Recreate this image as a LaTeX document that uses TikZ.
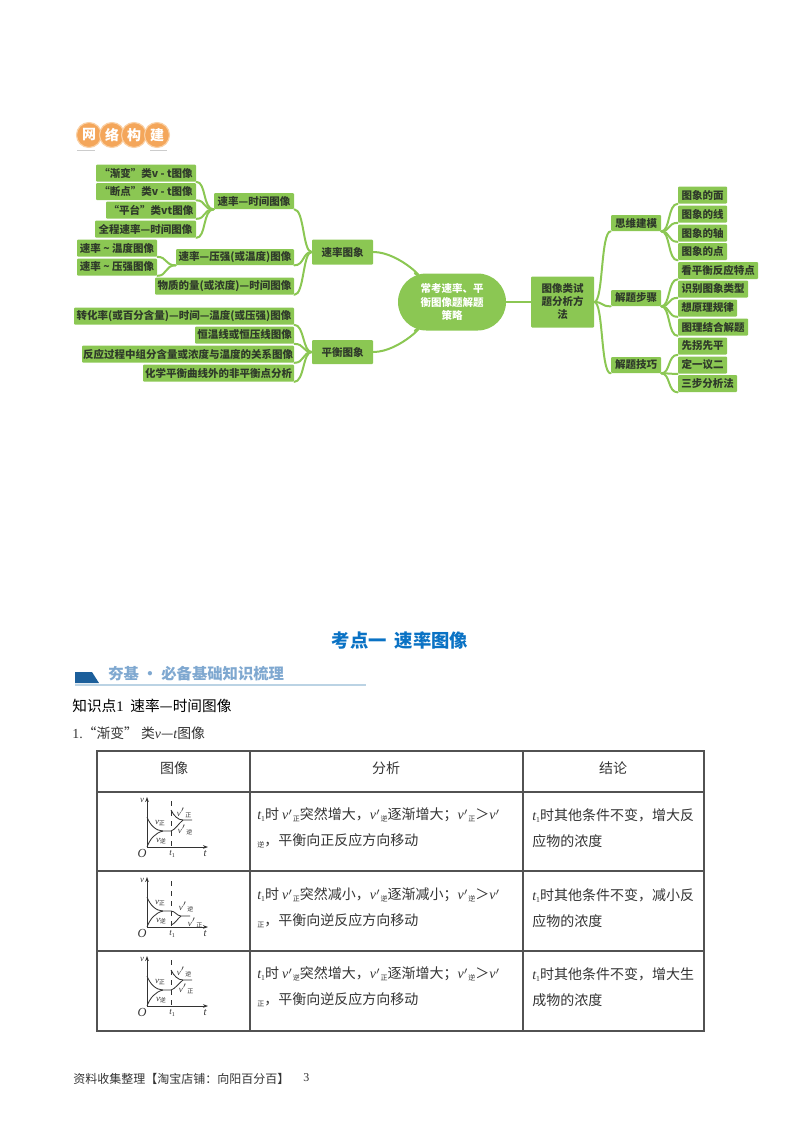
\documentclass[tikz,border=0pt]{standalone}
\usepackage{fontspec}
\setmainfont{Noto Sans CJK SC}
\newfontfamily\cjkf{Noto Sans CJK SC}
\newfontfamily\ser{Liberation Serif}
\usetikzlibrary{arrows.meta,backgrounds}
\definecolor{mapgreen}{HTML}{8BC753}
\definecolor{maptext}{HTML}{2F3A2A}
\definecolor{badge}{HTML}{F4A65A}
\definecolor{badgering}{HTML}{FAD0A4}
\definecolor{titleblue}{HTML}{0A72C4}
\definecolor{bandblue}{HTML}{1C5F9B}
\definecolor{bandtext}{HTML}{7FA8D0}
\definecolor{bandline}{HTML}{BBD3E4}
\definecolor{ink}{HTML}{333333}
\tikzset{
  mapbox/.style={fill=mapgreen,text=maptext,inner sep=0pt,font=\fontsize{6.3}{7.8}\selectfont\bfseries,align=center},
  conn/.style={draw=mapgreen,line width=1.2pt,line cap=round},
  badgec/.style={circle,fill=badge,draw=badgering,line width=.7pt,minimum size=15pt,inner sep=0pt,text=white,font=\fontsize{8.4}{9}\selectfont\bfseries},
  txt/.style={text=ink,inner sep=0pt,anchor=west,align=left,font=\fontsize{8.4}{15.6}\selectfont},
  headtxt/.style={text=ink,inner sep=0pt,font=\fontsize{8.4}{10}\selectfont},
  grid/.style={draw=ink!85,line width=.7pt},
  curve/.style={draw=ink,line width=.5pt},
  axis/.style={draw=ink,line width=.55pt,-{Stealth[length=3pt,width=2.2pt]}},
  glab/.style={text=ink,inner sep=0pt,font=\fontsize{5.4}{6}\selectfont\ser\itshape}
}
% name, x0, x1, y centre, height, text
\newcommand\gbox[6]{%
  \pgfmathsetmacro\gbw{(#3-#2)*0.6}\pgfmathsetmacro\gbh{#5*0.6}\pgfmathsetmacro\gbx{(#2+#3)/2}%
  \node[mapbox,rounded corners=.6pt,minimum width=\gbw pt,minimum height=\gbh pt] (#1) at (\gbx,#4) {#6};}
\newcommand\tv{{\ser\itshape t}\raisebox{-1pt}{\fontsize{4.6}{5}\selectfont\ser 1}}
\newcommand\vp[1]{{\ser\itshape v}$'$\raisebox{-1pt}{\fontsize{4.2}{5}\selectfont #1}}
\newcommand\sbt[1]{\raisebox{-1pt}{\fontsize{4.2}{5}\selectfont #1}}
\newcommand\gsub[1]{\raisebox{-.8pt}{\fontsize{3.6}{4}\selectfont\cjkf\upshape #1}}
% axes, t1 line, first two curves and their labels; #1 name, #2 y of origin
\newcommand\vtaxes[2]{%
\begin{scope}[shift={(0,#2)}]
  \coordinate (#1O) at (147,0);
  \coordinate (#1Y) at (147,-50);
  \coordinate (#1X) at (208,0);
  \draw[axis] (#1O) -- (#1Y);
  \draw[axis] (#1O) -- (#1X);
  \draw[curve,dashed] (171,-46) -- (171,0);
  \draw[curve] (147,-30) .. controls (150,-22) and (156,-16) .. (163,-16) -- (171,-16);
  \draw[curve] (147,0) .. controls (150,-8) and (155,-14) .. (163,-16);
  \node[glab] (#1lv) at (142,-47) {v};
  \node[glab] (#1lz) at (160,-24) {v\gsub{正}};
  \node[glab] (#1ln) at (161,-6) {v\gsub{逆}};
  \node[glab,font=\fontsize{7.4}{8}\selectfont\ser\itshape] (#1lO) at (142,6) {O};
  \node[glab] (#1lt) at (172,7) {t\raisebox{-.8pt}{\fontsize{3.6}{4}\selectfont\upshape 1}};
  \node[glab,font=\fontsize{6.4}{7}\selectfont\ser\itshape] (#1le) at (205,7) {t};
\end{scope}}
\begin{document}
\begin{tikzpicture}[x=0.6pt,y=-0.6pt]
\useasboundingbox (0,0) rectangle (800,1132);

% badge
\node[badgec] (b1) at (89,135) {网};
\node[badgec] (b2) at (112,135) {络};
\node[badgec] (b3) at (134,135) {构};
\node[badgec] (b4) at (157,135) {建};
\fill[black!20] (77,149.5) rectangle (95,151);
\fill[black!20] (150,149.5) rectangle (167,151);

% left map
\gbox{a1}{96}{196}{173}{17}{“渐变”类v - t图像}
\gbox{a2}{96}{196}{191.5}{17}{“断点”类v - t图像}
\gbox{a3}{106}{196}{210}{17}{“平台”类vt图像}
\gbox{a4}{95}{196}{229}{17}{全程速率—时间图像}
\gbox{a}{214}{294}{201}{16}{速率—时间图像}
\gbox{e1}{77}{157}{248}{17}{速率 \textasciitilde\ 温度图像}
\gbox{e2}{77}{157}{267}{17}{速率 \textasciitilde\ 压强图像}
\gbox{e}{176}{294}{257}{16}{速率—压强(或温度)图像}
\gbox{c}{155}{294}{286}{17}{物质的量(或浓度)—时间图像}
\gbox{r}{312}{373}{252}{25}{速率图象}
\gbox{d1}{74}{294}{316}{17}{转化率(或百分含量)—时间—温度(或压强)图像}
\gbox{d2}{195}{294}{335}{17}{恒温线或恒压线图像}
\gbox{d3}{82}{294}{354}{17}{反应过程中组分含量或浓度与温度的关系图像}
\gbox{d4}{143}{294}{373}{17}{化学平衡曲线外的非平衡点分析}
\gbox{p}{312}{373}{352}{24}{平衡图象}

% centre
\node[fill=mapgreen,text=white,inner sep=0pt,minimum width=64.8pt,minimum height=34.2pt,rounded corners=17pt,align=center,font=\fontsize{6.3}{8}\selectfont\bfseries] (ctr) at (452,302) {常考速率、平\\衡图像题解题\\策略};

% right map
\gbox{m}{531}{594}{302}{51}{图像类试\\题分析方\\法}
\gbox{s1}{611}{661}{223}{16}{思维建模}
\gbox{s2}{611}{661}{298}{16}{解题步骤}
\gbox{s3}{611}{661}{365}{16}{解题技巧}
\gbox{t1}{678}{727}{195}{17}{图象的面}
\gbox{t2}{678}{727}{214}{17}{图象的线}
\gbox{t3}{678}{727}{233}{17}{图象的轴}
\gbox{t4}{678}{727}{251.5}{17}{图象的点}
\gbox{u1}{678}{758}{270.5}{17}{看平衡反应特点}
\gbox{u2}{678}{748}{289}{17}{识别图象类型}
\gbox{u3}{678}{737}{308}{17}{想原理规律}
\gbox{u4}{678}{748}{327}{17}{图理结合解题}
\gbox{v1}{678}{727}{346}{17}{先拐先平}
\gbox{v2}{678}{727}{365}{17}{定一议二}
\gbox{v3}{678}{737}{383.5}{17}{三步分析法}

\begin{scope}[on background layer]
  \foreach \n in {a1,a2,a3,a4} \draw[conn] (a.south west) .. controls +(-11,0) and +(10,0) .. (\n.south east);
  \foreach \n in {e1,e2} \draw[conn] (e.south west) .. controls +(-11,0) and +(10,0) .. (\n.south east);
  \foreach \n in {a,e,c} \draw[conn] (r.west) .. controls +(-9,0) and +(10,0) .. (\n.south east);
  \foreach \n in {d1,d2,d3,d4} \draw[conn] (p.west) .. controls +(-9,0) and +(10,0) .. (\n.south east);
  \foreach \n in {t1,t2,t3,t4} \draw[conn] (s1.south east) .. controls +(9,0) and +(-10,0) .. (\n.south west);
  \foreach \n in {u1,u2,u3,u4} \draw[conn] (s2.south east) .. controls +(9,0) and +(-10,0) .. (\n.south west);
  \foreach \n in {v1,v2,v3} \draw[conn] (s3.south east) .. controls +(9,0) and +(-10,0) .. (\n.south west);
  \foreach \n in {s1,s2,s3} \draw[conn] (m.east) .. controls +(9,0) and +(-10,0) .. (\n.south west);
  \draw[conn] (ctr) -- (m);
  \draw[conn] (r.east) .. controls +(27,0) and +(-22,-17) .. (ctr);
  \draw[conn] (p.east) .. controls +(27,0) and +(-22,17) .. (ctr);
\end{scope}

% headings
\node[text=titleblue,inner sep=0pt,font=\fontsize{11}{12}\selectfont\bfseries] (title) at (400,640) {考点一\hspace{5pt}速率图像};
\fill[bandblue] (75,672) -- (92,672) -- (99,683) -- (75,683) -- cycle;
\fill[bandline] (75,684) rectangle (366,686);
\node[text=bandtext,anchor=west,inner sep=0pt,font=\fontsize{9.2}{10}\selectfont\bfseries] (band) at (108,674) {夯基 · 必备基础知识梳理};
\node[anchor=west,inner sep=0pt,text=black,font=\fontsize{8.8}{10}\selectfont] (kp) at (72,706) {知识点{\ser 1}\hspace{4pt}速率—时间图像};
\node[anchor=west,inner sep=0pt,text=ink,font=\fontsize{8.3}{10}\selectfont] (item) at (72,733) {{\ser 1.}“渐变” 类{\ser\itshape v}—{\ser\itshape t}图像};

% table
\draw[grid] (97,751) rectangle (704,1031);
\foreach \yy in {792,871,951} \draw[grid] (97,\yy) -- (704,\yy);
\foreach \xx in {250,523} \draw[grid] (\xx,751) -- (\xx,1031);
\node[headtxt] (h1) at (174,768) {图像};
\node[headtxt] (h2) at (386,768) {分析};
\node[headtxt] (h3) at (613,768) {结论};

\node[txt] (c11) at (257,828) {\tv 时 \vp{正}突然增大，\vp{逆}逐渐增大；\vp{正}＞\vp{}\\\sbt{逆}，平衡向正反应方向移动};
\node[txt] (c12) at (532,828) {\tv 时其他条件不变，增大反\\应物的浓度};
\node[txt] (c21) at (257,908) {\tv 时 \vp{正}突然减小，\vp{逆}逐渐减小；\vp{逆}＞\vp{}\\\sbt{正}，平衡向逆反应方向移动};
\node[txt] (c22) at (532,908) {\tv 时其他条件不变，减小反\\应物的浓度};
\node[txt] (c31) at (257,987) {\tv 时 \vp{逆}突然增大，\vp{正}逐渐增大；\vp{逆}＞\vp{}\\\sbt{正}，平衡向逆反应方向移动};
\node[txt] (c32) at (532,987) {\tv 时其他条件不变，增大生\\成物的浓度};

% graphs
\vtaxes{g}{847}
\draw[curve] (171,810) .. controls (174,816) and (178,820) .. (183,820) -- (192,820);
\draw[curve] (171,831) .. controls (175,830) and (179,823) .. (183,820);
\node[glab] (gu) at (184,813) {v$'$\gsub{正}};
\node[glab] (gd) at (185,830) {v$'$\gsub{逆}};

\vtaxes{h}{927}
\draw[curve] (171,911) .. controls (175,911) and (177,916) .. (181,916) -- (190,916);
\draw[curve] (171,925) .. controls (175,924) and (178,918) .. (181,916);
\node[glab] (hu) at (186,907) {v$'$\gsub{逆}};
\node[glab] (hd) at (195,923) {v$'$\gsub{正}};

\vtaxes{k}{1006}
\draw[curve] (171,970) .. controls (174,976) and (178,980) .. (183,980) -- (192,980);
\draw[curve] (171,990) .. controls (175,989) and (179,983) .. (183,980);
\node[glab] (ku) at (184,972) {v$'$\gsub{逆}};
\node[glab] (kd) at (186,989) {v$'$\gsub{正}};

% footer
\node[anchor=west,inner sep=0pt,text=ink,font=\fontsize{7.2}{9}\selectfont] (foot) at (73,1079) {资料收集整理【淘宝店铺：向阳百分百】};
\node[anchor=west,inner sep=0pt,text=ink,font=\fontsize{7.2}{9}\selectfont\ser] (pg) at (303,1078) {3};
\end{tikzpicture}
\end{document}
